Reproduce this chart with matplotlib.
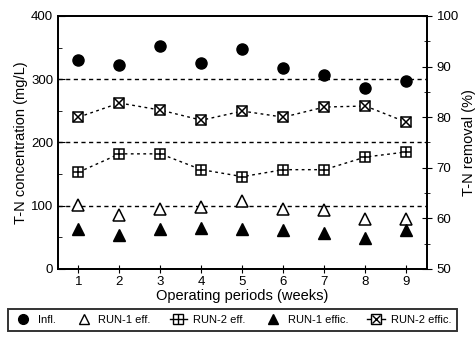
import matplotlib
matplotlib.use("Agg")
from matplotlib import pyplot as plt
from matplotlib.ticker import MultipleLocator

plt.rcParams['font.family'] = ['Liberation Sans', 'DejaVu Sans']

weeks = [1, 2, 3, 4, 5, 6, 7, 8, 9]
infl = [330, 322, 352, 325, 348, 318, 307, 286, 297]             # mg/L
run1_eff = [101, 85, 95, 98, 108, 95, 93, 79, 79]                 # mg/L
run2_eff = [153, 182, 182, 157, 146, 157, 157, 177, 185]          # mg/L
run1_effic = [57.9, 56.7, 57.9, 58.1, 58.0, 57.7, 57.1, 56.1, 57.7]  # %
run2_effic = [80.0, 82.8, 81.4, 79.4, 81.2, 80.0, 82.0, 82.2, 79.0]  # %

MS = 8
fig = plt.figure(figsize=(4.77, 3.39), dpi=100)
ax = fig.add_axes([0.1216, 0.2065, 0.7734, 0.7465])
ax2 = ax.twinx()

# concentrations on the left axis
ax.plot(weeks, infl, 'o', color='black', ms=MS, zorder=3)
ax.plot(weeks, run1_eff, '^', mfc='white', mec='black', mew=1.1, ms=MS, zorder=3)
ax.plot(weeks, run2_eff, ls=(0, (2, 2.5)), color='black', lw=1.0, zorder=2)
ax.plot(weeks, run2_eff, 's', mfc='white', mec='black', mew=1.1, ms=MS - 0.5, zorder=3)
ax.plot(weeks, run2_eff, '+', color='black', mew=1.1, ms=MS - 0.5, zorder=4)

# removal efficiencies on the right axis
ax2.plot(weeks, run1_effic, '^', color='black', ms=MS, zorder=3)
ax2.plot(weeks, run2_effic, ls=(0, (2, 2.5)), color='black', lw=1.0, zorder=2)
ax2.plot(weeks, run2_effic, 's', mfc='white', mec='black', mew=1.1, ms=MS - 0.5, zorder=3)
ax2.plot(weeks, run2_effic, 'x', color='black', mew=1.1, ms=MS - 1.5, zorder=4)

for y in [100, 200, 300]:
    ax.axhline(y, color='black', ls=(0, (3, 2.5)), lw=1.0, zorder=1)

ax.set_xlim(0.5, 9.5)
ax.set_ylim(0, 400)
ax2.set_ylim(50, 100)
ax.set_xticks(weeks)
ax.yaxis.set_major_locator(MultipleLocator(100))
ax.yaxis.set_minor_locator(MultipleLocator(50))
ax2.yaxis.set_major_locator(MultipleLocator(10))
ax2.yaxis.set_minor_locator(MultipleLocator(5))

ax.tick_params(axis='x', direction='inout', length=6, labelsize=9.5, pad=2)
ax.tick_params(axis='y', which='major', direction='in', length=5, labelsize=9.5)
ax.tick_params(axis='y', which='minor', direction='in', length=3)
ax2.tick_params(axis='y', which='major', direction='inout', length=7, labelsize=9.5)
ax2.tick_params(axis='y', which='minor', direction='inout', length=4)

for a in (ax, ax2):
    for s in a.spines.values():
        s.set_linewidth(1.3)

ax.set_xlabel("Operating periods (weeks)", fontsize=10.5, labelpad=1)
ax.set_ylabel("T-N concentration (mg/L)", fontsize=10.5, labelpad=2)
ax2.set_ylabel("T-N removal (%)", fontsize=10.5, rotation=90, labelpad=2)

# legend below the plot
h_infl = plt.Line2D([], [], marker='o', ls='none', color='black', ms=7)
h_r1 = plt.Line2D([], [], marker='^', ls='none', mfc='white', mec='black', ms=7)
h_r2_line = plt.Line2D([], [], ls='-', color='black', lw=1.0)
h_r2_sq = plt.Line2D([], [], marker='s', ls='none', mfc='white', mec='black', ms=7)
h_r2_plus = plt.Line2D([], [], marker='+', ls='none', color='black', ms=7)
h_r1c = plt.Line2D([], [], marker='^', ls='none', color='black', ms=7)
h_r2c_x = plt.Line2D([], [], marker='x', ls='none', color='black', ms=6)

handles = [h_infl, h_r1, (h_r2_line, h_r2_sq, h_r2_plus), h_r1c,
           (h_r2_line, h_r2_sq, h_r2c_x)]
labels = ["Infl.", "RUN-1 eff.", "RUN-2 eff.", "RUN-1 effic.", "RUN-2 effic."]
leg = fig.legend(handles, labels, loc='lower left', ncol=5,
                 bbox_to_anchor=(0.006, 0.006, 0.964, 0.085), mode='expand',
                 fontsize=8, frameon=True, fancybox=False, handlelength=1.6,
                 handletextpad=0.5, borderpad=0.55, columnspacing=0.8)
leg.get_frame().set_edgecolor('black')
leg.get_frame().set_linewidth(1.4)

fig.savefig("out.png", dpi=100)
